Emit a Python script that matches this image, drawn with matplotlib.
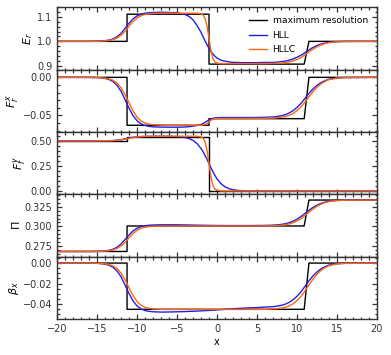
import matplotlib
matplotlib.use("Agg")
import matplotlib.pyplot as plt
from matplotlib.ticker import AutoMinorLocator, MultipleLocator

# ------------- DATA -----------------
# sample positions for the two solver curves
x = [-20, -16, -15, -14, -13.5, -13, -12.5, -12, -11.5, -11,
     -10.5, -10, -9.5, -9, -8.5, -8, -7, -6, -5, -4.5,
     -4, -3.5, -3, -2.5, -2, -1.75, -1.5, -1.25, -1, -0.75,
     -0.5, -0.25, 0, 0.5, 1, 1.5, 2, 2.5, 3, 4,
     5, 6, 7, 7.5, 8, 8.5, 9, 9.5, 10, 10.5,
     11, 11.5, 12, 12.5, 13, 13.5, 14, 15, 16, 20]

# maximum resolution (step profile)
x_max = [-20, -11.25, -11.25, -1.0, -1.0, 10.9, 11.5, 20]
er_max = [1.0, 1.0, 1.111, 1.111, 0.907, 0.907, 1.0, 1.0]
fx_max = [0.0, 0.0, -0.063, -0.063, -0.0543, -0.0543, 0.0, 0.0]
fy_max = [0.5, 0.5, 0.543, 0.543, 0.0, 0.0, 0.0, 0.0]
pi_max = [0.268, 0.268, 0.3005, 0.3005, 0.3005, 0.3005, 0.3335, 0.3335]
bx_max = [0.0, 0.0, -0.0452, -0.0452, -0.0452, -0.0452, 0.0, 0.0]

er_hll = [1.0, 1.0, 1.001, 1.003, 1.005, 1.010, 1.019, 1.033, 1.053, 1.074,
          1.092, 1.104, 1.111, 1.115, 1.117, 1.118, 1.119, 1.118, 1.117, 1.114,
          1.110, 1.102, 1.088, 1.065, 1.037, 1.020, 1.002, 0.986, 0.971, 0.958,
          0.948, 0.939, 0.932, 0.923, 0.919, 0.916, 0.914, 0.914, 0.913, 0.913,
          0.913, 0.914, 0.914, 0.915, 0.917, 0.919, 0.923, 0.928, 0.935, 0.943,
          0.954, 0.965, 0.975, 0.983, 0.989, 0.993, 0.996, 0.999, 1.0, 1.0]
er_hllc = [1.0, 1.0, 1.0, 1.002, 1.004, 1.007, 1.014, 1.025, 1.041, 1.062,
           1.081, 1.095, 1.105, 1.110, 1.112, 1.114, 1.115, 1.115, 1.115, 1.115,
           1.115, 1.115, 1.115, 1.115, 1.113, 1.108, 1.095, 1.063, 1.012, 0.961,
           0.929, 0.916, 0.911, 0.909, 0.909, 0.909, 0.909, 0.909, 0.909, 0.909,
           0.909, 0.909, 0.910, 0.910, 0.911, 0.913, 0.916, 0.920, 0.926, 0.934,
           0.945, 0.957, 0.968, 0.978, 0.985, 0.991, 0.995, 0.998, 0.999, 1.0]

fx_hll = [0.0, -0.0001, -0.0003, -0.0014, -0.0029, -0.0056, -0.0105, -0.0183, -0.0293, -0.0406,
          -0.0504, -0.057, -0.0611, -0.0633, -0.0644, -0.065, -0.0654, -0.0655, -0.0655, -0.0654,
          -0.0652, -0.0648, -0.0642, -0.0633, -0.062, -0.0608, -0.0592, -0.0574, -0.0558, -0.0546,
          -0.0538, -0.0533, -0.0530, -0.0528, -0.0528, -0.0528, -0.0528, -0.0528, -0.0528, -0.0528,
          -0.0527, -0.0525, -0.052, -0.0514, -0.0505, -0.0492, -0.047, -0.0438, -0.0396, -0.0343,
          -0.0277, -0.0211, -0.0153, -0.0106, -0.0069, -0.0044, -0.0024, -0.0008, -0.0003, 0.0]
fx_hllc = [0.0, -0.0001, -0.0003, -0.001, -0.002, -0.0039, -0.0076, -0.0137, -0.0227, -0.0337,
           -0.0441, -0.0523, -0.0573, -0.060, -0.0615, -0.0622, -0.0628, -0.063, -0.063, -0.063,
           -0.063, -0.063, -0.063, -0.063, -0.0629, -0.0627, -0.0621, -0.0608, -0.0585, -0.0563,
           -0.0549, -0.0543, -0.0541, -0.054, -0.054, -0.054, -0.054, -0.054, -0.054, -0.054,
           -0.0539, -0.0538, -0.0535, -0.0531, -0.0525, -0.0516, -0.050, -0.0475, -0.0437, -0.0389,
           -0.0324, -0.0254, -0.0189, -0.013, -0.0086, -0.0054, -0.003, -0.0011, -0.0004, 0.0]

fy_hll = [0.5, 0.5, 0.5, 0.501, 0.502, 0.504, 0.508, 0.513, 0.521, 0.529,
          0.536, 0.541, 0.544, 0.545, 0.546, 0.547, 0.547, 0.547, 0.543, 0.540,
          0.534, 0.524, 0.505, 0.474, 0.425, 0.393, 0.356, 0.316, 0.274, 0.231,
          0.191, 0.154, 0.122, 0.073, 0.042, 0.023, 0.013, 0.007, 0.004, 0.001,
          0.0, 0.0, 0.0, 0.0, 0.0, 0.0, 0.0, 0.0, 0.0, 0.0,
          0.0, 0.0, 0.0, 0.0, 0.0, 0.0, 0.0, 0.0, 0.0, 0.0]
fy_hllc = [0.5, 0.5, 0.5, 0.501, 0.501, 0.503, 0.506, 0.510, 0.517, 0.525,
           0.533, 0.539, 0.543, 0.545, 0.546, 0.546, 0.547, 0.547, 0.547, 0.547,
           0.547, 0.547, 0.547, 0.547, 0.540, 0.528, 0.493, 0.410, 0.274, 0.137,
           0.054, 0.019, 0.007, 0.001, 0.0, 0.0, 0.0, 0.0, 0.0, 0.0,
           0.0, 0.0, 0.0, 0.0, 0.0, 0.0, 0.0, 0.0, 0.0, 0.0,
           0.0, 0.0, 0.0, 0.0, 0.0, 0.0, 0.0, 0.0, 0.0, 0.0]

pi_hll = [0.268, 0.268, 0.2682, 0.2687, 0.2695, 0.2709, 0.2734, 0.2775, 0.2832, 0.2891,
          0.2942, 0.2976, 0.2997, 0.3008, 0.3014, 0.3017, 0.302, 0.302, 0.302, 0.3019,
          0.3018, 0.3017, 0.3016, 0.3015, 0.3014, 0.3014, 0.3013, 0.3013, 0.3012, 0.3012,
          0.3012, 0.3011, 0.3011, 0.3011, 0.301, 0.301, 0.301, 0.301, 0.301, 0.301,
          0.3011, 0.3012, 0.3015, 0.3019, 0.3024, 0.3032, 0.3046, 0.3065, 0.3091, 0.3124,
          0.3164, 0.3205, 0.3241, 0.327, 0.3293, 0.3308, 0.332, 0.333, 0.3333, 0.3335]
pi_hllc = [0.268, 0.268, 0.268, 0.2685, 0.269, 0.270, 0.2719, 0.2751, 0.2797, 0.2854,
           0.2908, 0.295, 0.2976, 0.299, 0.2997, 0.3001, 0.3005, 0.3005, 0.3005, 0.3005,
           0.3005, 0.3005, 0.3005, 0.3005, 0.3005, 0.3005, 0.3005, 0.3005, 0.3005, 0.3005,
           0.3005, 0.3005, 0.3005, 0.3005, 0.3005, 0.3005, 0.3005, 0.3005, 0.3005, 0.3005,
           0.3005, 0.3006, 0.3008, 0.301, 0.3014, 0.302, 0.303, 0.3045, 0.3068, 0.3097,
           0.3137, 0.318, 0.322, 0.3256, 0.3282, 0.3302, 0.3317, 0.3329, 0.3333, 0.3335]

bx_hll = [0.0, 0.0, -0.0002, -0.0011, -0.0021, -0.0041, -0.0077, -0.0134, -0.0215, -0.0298,
          -0.037, -0.0418, -0.0448, -0.0464, -0.0472, -0.0476, -0.0479, -0.0478, -0.0476, -0.0475,
          -0.0474, -0.0472, -0.0471, -0.0469, -0.0467, -0.0466, -0.0465, -0.0464, -0.0463, -0.0462,
          -0.0461, -0.0459, -0.0458, -0.0455, -0.0452, -0.045, -0.0447, -0.0444, -0.0442, -0.0438,
          -0.0435, -0.043, -0.0426, -0.0421, -0.0414, -0.0403, -0.0385, -0.0359, -0.0325, -0.0281,
          -0.0227, -0.0173, -0.0126, -0.0087, -0.0056, -0.0036, -0.0019, -0.0006, -0.0002, 0.0]
bx_hllc = [0.0, 0.0, -0.0002, -0.0007, -0.0014, -0.0028, -0.0054, -0.0098, -0.0163, -0.0242,
           -0.0317, -0.0376, -0.0412, -0.0432, -0.0442, -0.0448, -0.0452, -0.0453, -0.0453, -0.0453,
           -0.0453, -0.0453, -0.0453, -0.0453, -0.0453, -0.0453, -0.0453, -0.0453, -0.0453, -0.0453,
           -0.0453, -0.0453, -0.0453, -0.0453, -0.0453, -0.0453, -0.0453, -0.0453, -0.0453, -0.0453,
           -0.0453, -0.0452, -0.0448, -0.0446, -0.0441, -0.0433, -0.0419, -0.0399, -0.0367, -0.0326,
           -0.0272, -0.0213, -0.0159, -0.0109, -0.0072, -0.0045, -0.0025, -0.0009, -0.0003, 0.0]

ylabels = [r"$E_r$", r"$F_r^x$", r"$F_r^y$", r"$\Pi$", r"$\beta_x$"]
# ------------------------------------

panels = [
    (er_max, er_hll, er_hllc, (0.885, 1.14), 0.1),
    (fx_max, fx_hll, fx_hllc, (-0.0717, 0.0103), 0.05),
    (fy_max, fy_hll, fy_hllc, (-0.033, 0.59), 0.25),
    (pi_max, pi_hll, pi_hllc, (0.2613, 0.3408), 0.025),
    (bx_max, bx_hll, bx_hllc, (-0.0548, 0.0062), 0.02),
]

plt.rcParams["font.size"] = 7
plt.rcParams["axes.edgecolor"] = "#333333"
plt.rcParams["xtick.color"] = "#333333"
plt.rcParams["ytick.color"] = "#333333"

fig, axes = plt.subplots(5, 1, figsize=(3.91, 3.55), dpi=100, sharex=True)
fig.subplots_adjust(left=0.146, right=0.964, top=0.980, bottom=0.101, hspace=0)

for ax, (ymax_, yhll, yhllc, ylim, major), lab in zip(axes, panels, ylabels):
    ax.plot(x_max, ymax_, color="black", lw=1.0, label="maximum resolution")
    ax.plot(x, yhll, color="#2020e8", lw=1.0, label="HLL")
    ax.plot(x, yhllc, color="#ff6410", lw=1.0, label="HLLC")
    ax.set_xlim(-20, 20)
    ax.set_ylim(*ylim)
    ax.yaxis.set_major_locator(MultipleLocator(major))
    ax.xaxis.set_major_locator(MultipleLocator(5))
    ax.xaxis.set_minor_locator(AutoMinorLocator(5))
    ax.yaxis.set_minor_locator(AutoMinorLocator())
    ax.tick_params(which="both", direction="in", top=True, right=True, width=0.9)
    ax.tick_params(which="major", length=3.5)
    ax.tick_params(which="minor", length=1.8)
    ax.set_ylabel(lab, fontsize=8, labelpad=1.5)
    for s in ax.spines.values():
        s.set_linewidth(1.0)

axes[0].legend(loc="upper right", frameon=False, fontsize=6.6, handlelength=2.0,
               borderaxespad=0.6, labelspacing=0.6, handletextpad=0.6)
axes[-1].set_xlabel("x", fontsize=7, labelpad=2)

plt.savefig("out.png", dpi=100)
plt.close()
